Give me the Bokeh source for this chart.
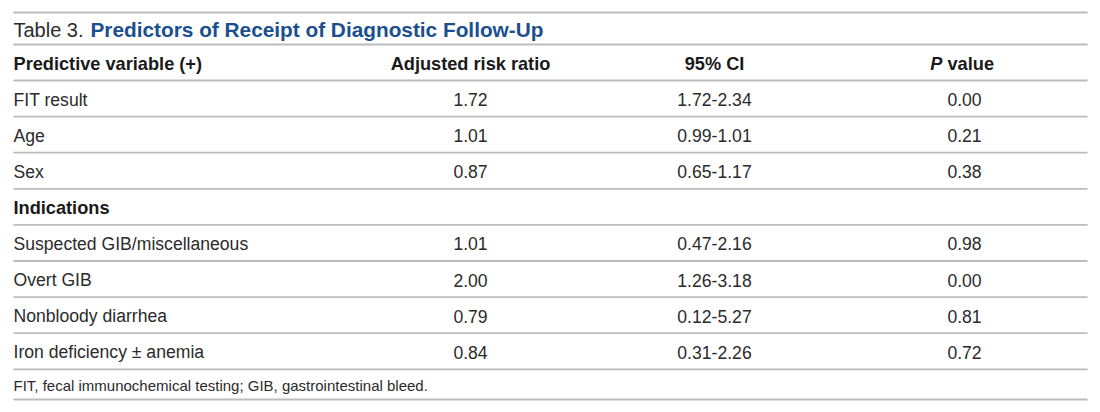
from bokeh.plotting import figure
from bokeh.models import Range1d, ColumnDataSource
from bokeh.embed import file_html
from bokeh.resources import INLINE
from bokeh.core.properties import value

# ---- data ----
title_prefix = "Table 3."
title_main = "Predictors of Receipt of Diagnostic Follow-Up"
headers = ["Predictive variable (+)", "Adjusted risk ratio", "95% CI", "P value"]
variables = ["FIT result", "Age", "Sex", "Indications",
             "Suspected GIB/miscellaneous", "Overt GIB", "Nonbloody diarrhea",
             "Iron deficiency \u00b1 anemia"]
risk_ratio = ["1.72", "1.01", "0.87", "", "1.01", "2.00", "0.79", "0.84"]
ci95 = ["1.72-2.34", "0.99-1.01", "0.65-1.17", "", "0.47-2.16", "1.26-3.18",
        "0.12-5.27", "0.31-2.26"]
p_value = ["0.00", "0.21", "0.38", "", "0.98", "0.00", "0.81", "0.72"]
is_section = [False, False, False, True, False, False, False, False]
footnote = "FIT, fecal immunochemical testing; GIB, gastrointestinal bleed."

# ---- layout (page pixel coords) ----
W, H = 1100, 412
x_left = 13
x_right = 1087
col_centers = [470, 714, 964]
y_top = 12
y_title_line = 44
y_header_line = 80
pitch = 36.1
y_foot_line = 399

FONT = "Liberation Sans"
TXT = "#2b2b2b"
LINE = "#bcbcbc"
BLUE = "#1b4f8f"
BODY = "17.6px"
HEAD = "18.2px"

p = figure(width=W, height=H, output_backend="svg", toolbar_location=None,
           x_range=Range1d(0, W), y_range=Range1d(H, 0),
           min_border=0, outline_line_color=None)
p.axis.visible = False
p.xgrid.visible = False
p.ygrid.visible = False
p.background_fill_color = "white"
p.border_fill_color = "white"

n = len(variables)
row_lines = [y_header_line + pitch * (i + 1) for i in range(n)]
hlines = [y_top, y_title_line, y_header_line] + row_lines + [y_foot_line]
p.segment(x0=[x_left] * len(hlines), x1=[x_right] * len(hlines),
          y0=hlines, y1=hlines, line_color=LINE, line_width=1.8)

# title
y_title = (y_top + y_title_line) / 2 + 1
p.text(x=[x_left], y=[y_title], text=[title_prefix], text_font=value(FONT),
       text_font_size="20px", text_color=TXT, text_baseline="middle")
p.text(x=[90], y=[y_title], text=[title_main], text_font=value(FONT),
       text_font_size="20.8px", text_font_style="bold", text_color=BLUE,
       text_baseline="middle")

# headers
y_head = (y_title_line + y_header_line) / 2 + 1
p.text(x=[x_left], y=[y_head], text=[headers[0]], text_font=value(FONT),
       text_font_size=HEAD, text_font_style="bold", text_color="#1a1a1a",
       text_baseline="middle")
p.text(x=col_centers[:2], y=[y_head] * 2, text=headers[1:3], text_font=value(FONT),
       text_font_size=HEAD, text_font_style="bold", text_color="#1a1a1a",
       text_baseline="middle", text_align="center")
pv = headers[3].split(" ", 1)
p.text(x=[col_centers[2] - 22], y=[y_head], text=[pv[0]], text_font=value(FONT),
       text_font_size=HEAD, text_font_style="bold italic", text_color="#1a1a1a",
       text_baseline="middle", text_align="right")
p.text(x=[col_centers[2] - 17], y=[y_head], text=[pv[1]], text_font=value(FONT),
       text_font_size=HEAD, text_font_style="bold", text_color="#1a1a1a",
       text_baseline="middle", text_align="left")

# body
row_y = [y_header_line + pitch * (i + 0.5) + 1 for i in range(n)]
src = ColumnDataSource(dict(
    y=row_y, var=variables, rr=risk_ratio, ci=ci95, pv=p_value,
    style=["bold" if s else "normal" for s in is_section],
    color=["#1a1a1a" if s else TXT for s in is_section],
    size=[HEAD if s else BODY for s in is_section],
))
p.text(x=x_left, y="y", text="var", source=src, text_font=value(FONT),
       text_font_size="size", text_font_style="style", text_color="color",
       text_baseline="middle")
for cx, col in zip(col_centers, ["rr", "ci", "pv"]):
    p.text(x=cx, y="y", text=col, source=src, text_font=value(FONT),
           text_font_size=BODY, text_color=TXT, text_baseline="middle",
           text_align="center")

# footnote
p.text(x=[x_left], y=[(row_lines[-1] + y_foot_line) / 2 + 1], text=[footnote],
       text_font=value(FONT), text_font_size="15px", text_color=TXT,
       text_baseline="middle")

open("out.html", "w").write(file_html(p, INLINE))
